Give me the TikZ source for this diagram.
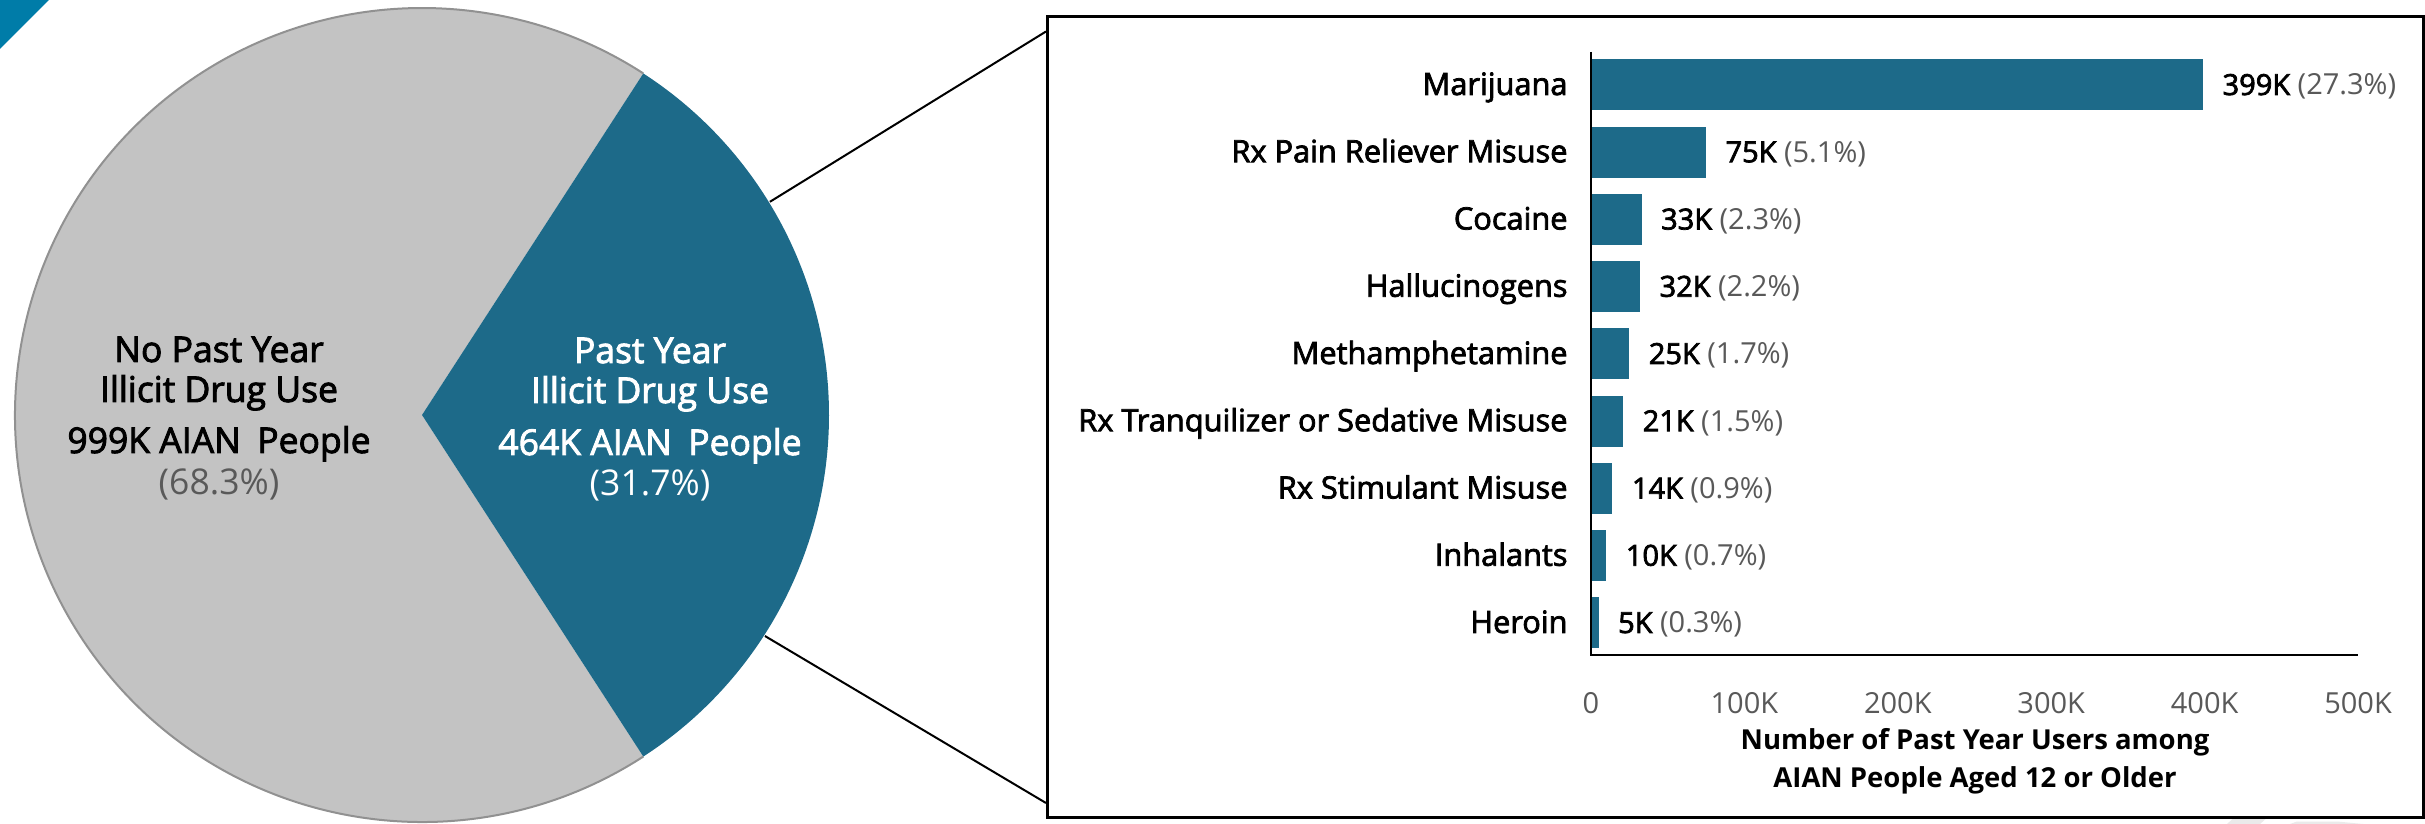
\documentclass[tikz,border=0pt]{standalone}
\usepackage{fontspec}
\setmainfont{Open Sans}
\IfFontExistsTF{Open Sans SemiBold}{\newfontfamily\semib{Open Sans SemiBold}}{\newfontfamily\semib{Open Sans}[FakeBold=2.5]}
\usetikzlibrary{calc}
\definecolor{barblue}{RGB}{29,106,137}
\definecolor{piegrey}{RGB}{195,195,195}
\definecolor{pieedge}{RGB}{145,145,145}
\definecolor{txtgrey}{RGB}{89,89,89}
\definecolor{triblue}{RGB}{0,124,168}
\definecolor{faint}{RGB}{234,234,234}
\begin{document}
\begin{tikzpicture}[x=0.4pt,y=-0.4pt,
  cat/.style={anchor=base east, inner sep=0pt, font=\semib\fontsize{12.3pt}{14pt}\selectfont},
  val/.style={anchor=base west, inner sep=0pt, font=\semib\fontsize{11.6pt}{14pt}\selectfont},
  tick/.style={anchor=base, inner sep=0pt, text=txtgrey, font=\fontsize{11.6pt}{14pt}\selectfont},
  atitle/.style={anchor=base, inner sep=0pt, font=\bfseries\fontsize{11.0pt}{14pt}\selectfont},
  pielab/.style={anchor=base, inner sep=0pt, font=\semib\fontsize{14.2pt}{17pt}\selectfont},
  piepct/.style={anchor=base, inner sep=0pt, font=\fontsize{14.2pt}{17pt}\selectfont},
  conn/.style={draw=black, line width=0.8pt},
  axisline/.style={draw=black, line width=0.8pt}]
\path[fill=white, use as bounding box] (0,0) rectangle (2425,824);
% corner triangle
\fill[triblue] (0,0) -- (49,0) -- (0,49) -- cycle;
% faint shapes bottom right
\fill[faint] (2227,824) -- (2238,814) -- (2271,814) -- (2260,824) -- cycle;
\fill[faint] (2290,824) -- (2297,821.5) -- (2337,821.5) -- (2363,824) -- cycle;
% pie
\coordinate (c) at (422,415);
\fill[piegrey] (c) -- ++(57.06:407) arc[start angle=57.06, end angle=302.94, radius=407] -- cycle;
\draw[pieedge, line width=0.8pt] ($(c)+(57.06:407)$) arc[start angle=57.06, end angle=302.94, radius=407];
\fill[barblue] (c) -- ++(-57.06:407) arc[start angle=-57.06, end angle=57.06, radius=407] -- cycle;
% pie labels
\node[pielab] (nl1) at (219,362) {No Past Year};
\node[pielab] (nl2) at (219,402) {Illicit Drug Use};
\node[pielab] (nl3) at (219,453) {999K AIAN\hspace{0.2em} People};
\node[piepct, text=txtgrey] (nl4) at (219,495) {(68.3\%)};
\node[pielab, text=white] (nr1) at (650,363) {Past Year};
\node[pielab, text=white] (nr2) at (650,403) {Illicit Drug Use};
\node[pielab, text=white] (nr3) at (650,455) {464K AIAN\hspace{0.2em} People};
\node[piepct, text=white] (nr4) at (650,496) {(31.7\%)};
% box
\node[draw, line width=1.2pt, fill=white, anchor=north west, minimum width=550.4pt, minimum height=320.4pt, inner sep=0pt] (box) at (1046,15) {};
\coordinate (pu) at ($(c)+(-31.5:408)$);
\coordinate (pl) at ($(c)+(32.8:408)$);
\draw[conn] (pu) -- ($(box.north west)+(0,16.5)$);
\draw[conn] (pl) -- ($(box.south west)+(0,-16)$);
% bars
\foreach \name/\v/\p [count=\i from 0] in {Marijuana/399/27.3, Rx Pain Reliever Misuse/75/5.1, Cocaine/33/2.3, Hallucinogens/32/2.2, Methamphetamine/25/1.7, Rx Tranquilizer or Sedative Misuse/21/1.5, Rx Stimulant Misuse/14/0.9, Inhalants/10/0.7, Heroin/5/0.3}{
  \pgfmathsetmacro\yc{85+67.25*\i}
  \pgfmathsetmacro\xe{1591+1.534*\v}
  \fill[barblue] (1591,\yc-25.5) rectangle (\xe,\yc+25.5);
  \node[cat] (lab\i) at (1568,\yc+10) {\name};
  \node[val] (val\i) at (\xe+19,\yc+10) {\v K \textcolor{txtgrey}{\normalfont\fontsize{11.6pt}{14pt}\selectfont(\p\%)}};
}
% axes
\draw[axisline] (1591,52) -- (1591,655) -- (2358,655);
\foreach \k/\t [count=\j from 0] in {0/0,100/100K,200/200K,300/300K,400/400K,500/500K}{
  \node[tick] (tk\j) at (1591+1.534*\k,714) {\t};
}
\node[atitle] (at1) at (1975,750) {Number of Past Year Users among};
\node[atitle] (at2) at (1975,787) {AIAN People Aged 12 or Older};
\end{tikzpicture}
\end{document}
